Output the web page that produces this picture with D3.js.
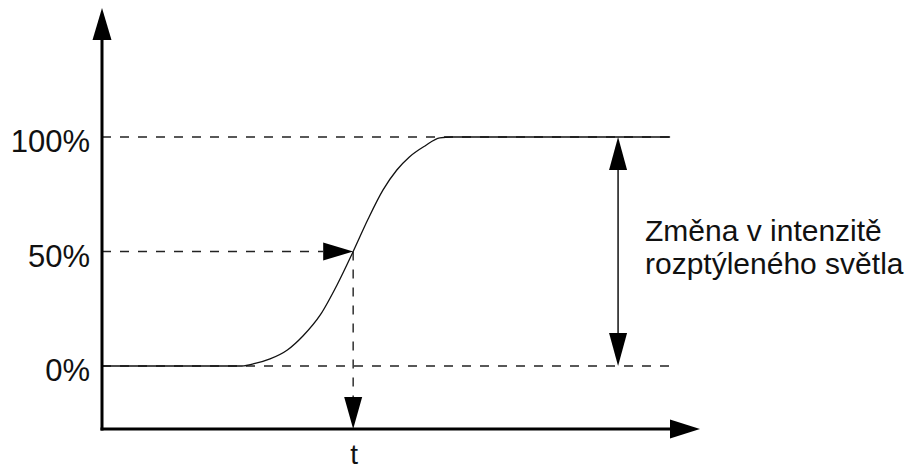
<!DOCTYPE html>
<html>
<head>
<meta charset="utf-8">
<script src="https://cdn.jsdelivr.net/npm/d3@7"></script>
<style>
    body { margin: 0; background: #fff; }
    svg { display: block; }
    text { font-family: Arial, "Liberation Sans", sans-serif; fill: #111; }
</style>
</head>
<body>
<svg id="chart" width="913" height="470"></svg>
<script>
// intensity levels marked on the y axis
var levels = [0, 50, 100]
var levelLabels = ["0%", "50%", "100%"]

// the response curve: time (arbitrary units) vs intensity in %
var curveTime = [0, 23.4, 25.6, 28.1, 31, 33.6, 36.5, 39.3, 42, 44.5, 47, 49.3, 51.4, 54, 56.5, 58.5, 95]
var curveIntensity = [0, 0, 1.1, 3.1, 7, 13.1, 22.3, 35.4, 50, 64.2, 76.9, 85.6, 91.3, 96.1, 99.6, 100, 100]

var halfTime = 42          // time where intensity reaches 50%
var changeTime = 86.3      // where the double arrow sits
var endTime = 95           // right end of the guide lines
var timeLabel = "t"
var changeLabel = ["Změna v intenzitě", "rozptýleného světla"]

var svg = d3.select("#chart")

// plot frame (pixels)
var axisLeft = 102, axisRight = 700, axisTop = 8, axisBottom = 429
var x = d3.scaleLinear().domain([0, 100]).range([axisLeft, axisRight])
var y = d3.scaleLinear().domain([0, 100]).range([366, 137])

var head = 32, half = 9.5

function arrowUp(cx, tipY, len, hw) {
    return "M" + cx + "," + tipY + "L" + (cx + hw) + "," + (tipY + len) +
        "L" + (cx - hw) + "," + (tipY + len) + "Z"
}
function arrowDown(cx, tipY, len, hw) {
    return "M" + cx + "," + tipY + "L" + (cx + hw) + "," + (tipY - len) +
        "L" + (cx - hw) + "," + (tipY - len) + "Z"
}
function arrowRight(tipX, cy, len, hw) {
    return "M" + tipX + "," + cy + "L" + (tipX - len) + "," + (cy - hw) +
        "L" + (tipX - len) + "," + (cy + hw) + "Z"
}

// dashed guide lines at each level
svg.append("g").selectAll("line").data(levels).join("line")
    .attr("x1", x(0)).attr("x2", x(endTime))
    .attr("y1", function(d) { return y(d) }).attr("y2", function(d) { return y(d) })
    .attr("stroke", "#222").attr("stroke-width", 1.4)
    .attr("stroke-dasharray", "9,9")
    .filter(function(d) { return d === 50 })
    .attr("x2", x(halfTime) - 30)

// vertical dashed line from 50% down to the time axis
svg.append("line")
    .attr("x1", x(halfTime)).attr("x2", x(halfTime))
    .attr("y1", y(50)).attr("y2", axisBottom - head)
    .attr("stroke", "#222").attr("stroke-width", 1.4)
    .attr("stroke-dasharray", "9,9")

// the curve
var pts = curveTime.map(function(t, i) { return [t, curveIntensity[i]] })
var line = d3.line()
    .x(function(d) { return x(d[0]) })
    .y(function(d) { return y(d[1]) })
    .curve(d3.curveMonotoneX)
svg.append("path")
    .attr("d", line(pts))
    .attr("fill", "none").attr("stroke", "#111").attr("stroke-width", 1.3)

// arrow pointing at the 50% point and down to t
svg.append("path").attr("d", arrowRight(x(halfTime), y(50), 30, 9)).attr("fill", "#000")
svg.append("path").attr("d", arrowDown(x(halfTime), axisBottom, head, 9)).attr("fill", "#000")

// double arrow showing the change in intensity
var cx = x(changeTime)
svg.append("line")
    .attr("x1", cx).attr("x2", cx)
    .attr("y1", y(100) + 20).attr("y2", y(0) - 20)
    .attr("stroke", "#111").attr("stroke-width", 1.5)
svg.append("path").attr("d", arrowUp(cx, y(100), 33, 9)).attr("fill", "#000")
svg.append("path").attr("d", arrowDown(cx, y(0), 33, 9)).attr("fill", "#000")

// axes
svg.append("line")
    .attr("x1", axisLeft).attr("x2", axisLeft)
    .attr("y1", axisBottom + 1.5).attr("y2", axisTop + 20)
    .attr("stroke", "#000").attr("stroke-width", 3)
svg.append("path").attr("d", arrowUp(axisLeft, axisTop, head, half)).attr("fill", "#000")
svg.append("line")
    .attr("x1", axisLeft - 1.5).attr("x2", axisRight - 20)
    .attr("y1", axisBottom).attr("y2", axisBottom)
    .attr("stroke", "#000").attr("stroke-width", 3)
svg.append("path").attr("d", arrowRight(axisRight, axisBottom, 30, half)).attr("fill", "#000")

// labels
svg.append("g").selectAll("text").data(levels).join("text")
    .attr("x", 90)
    .attr("y", function(d) { return y(d) + 15 })
    .attr("text-anchor", "end")
    .style("font-size", "31px")
    .text(function(d, i) { return levelLabels[i] })

svg.append("text")
    .attr("x", x(halfTime) + 1).attr("y", 464)
    .attr("text-anchor", "middle")
    .style("font-size", "28px")
    .text(timeLabel)

svg.append("g").selectAll("text").data(changeLabel).join("text")
    .attr("x", 645)
    .attr("y", function(d, i) { return 241 + i * 33 })
    .style("font-size", "30px")
    .text(function(d) { return d })
</script>
</body>
</html>
